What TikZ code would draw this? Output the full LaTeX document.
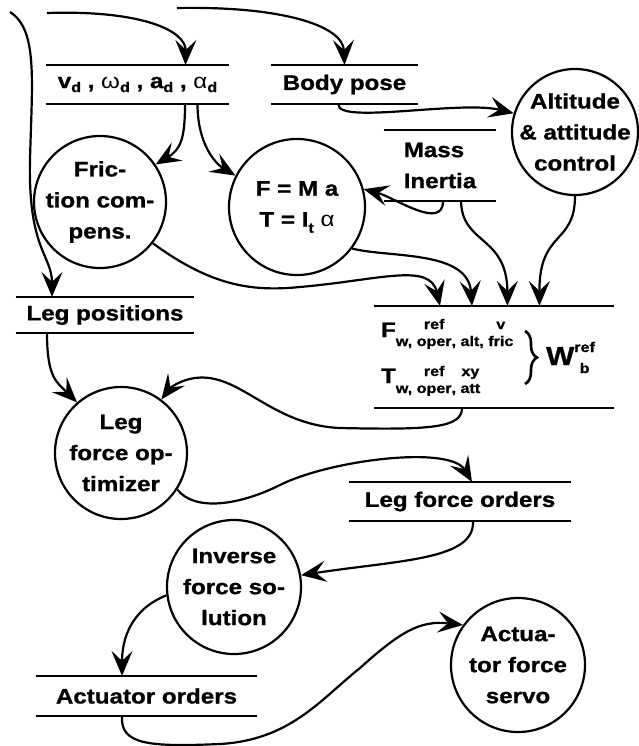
\documentclass[tikz,border=0pt]{standalone}
\usepackage{fontspec}
\setmainfont{Liberation Sans}[FakeStretch=1.15, BoldFeatures={FakeBold=1}]
\usetikzlibrary{arrows.meta,decorations.pathreplacing}

\newcommand{\dn}{\raisebox{-4pt}{\fontsize{14}{14}\selectfont d}}
\newcommand{\smf}{\fontsize{14}{17}\selectfont}
\newcommand{\stk}[2]{\begin{tabular}[b]{@{}c@{}}#1\\#2\end{tabular}}
\newcommand{\stkw}[2]{\begin{tabular}[b]{@{}c@{}}#1\\[4pt]#2\end{tabular}}

\tikzset{
  store/.style={minimum height=37pt, inner sep=0pt,
    append after command={(\tikzlastnode.north west) edge (\tikzlastnode.north east)
      (\tikzlastnode.south west) edge (\tikzlastnode.south east)}},
  proc/.style={circle, draw, minimum size=132pt, inner sep=0pt},
  ptext/.style={align=center, inner sep=0pt},
  arr/.style={-{Stealth[length=25pt,width=21pt,inset=10pt]}},
  brc/.style={decorate, decoration={brace, amplitude=12pt}, line width=2.6pt}
}

\begin{document}
\begin{tikzpicture}[x=1pt, y=-1pt, line width=2.2pt, font=\fontsize{21}{31}\selectfont\bfseries]
  \useasboundingbox (0,0) rectangle (638,746);

  \node[store, minimum width=181pt] (vd) at (137.5,84.5) {v\dn\ , {\mdseries ω}\dn\ , a\dn\ , {\mdseries α}\dn};
  \node[store, minimum width=145pt] (pose) at (344.5,84.5) {Body pose};
  \node[store, minimum width=110pt, minimum height=69pt, align=left] (mass) at (440,165.5) {Mass\\Inertia};
  \node[store, minimum width=176pt, minimum height=34pt] (legpos) at (105,315) {Leg positions};
  \node[store, minimum width=237pt, minimum height=100pt] (wref) at (494,357) {};
  \node[store, minimum width=220pt] (lfo) at (460,501.5) {Leg force orders};
  \node[store, minimum width=219pt, minimum height=38pt] (act) at (146.5,696) {Actuator orders};

  \node[anchor=base west, inner sep=0pt] (wf) at (380,337) {F\raisebox{-9pt}{\smf w, \stk{ref}{oper}, alt, \stk{v}{fric}}};
  \node[anchor=base west, inner sep=0pt] (wt) at (380,383) {T\raisebox{-10pt}{\smf w, \stk{ref}{oper}, \stk{xy}{att}}};
  \coordinate (brt) at (525,331);
  \coordinate (brb) at (525,384);
  \draw[brc] (brt) -- (brb);
  \node[anchor=base west, inner sep=0pt] (wb) at (545,365) {{\fontsize{26}{26}\selectfont W}\raisebox{-8pt}{\smf\stkw{ref}{b}}};

  \node[proc] (fric) at (100,202) {};
  \node[ptext] (fric-t) at (fric) {Fric-\\tion com-\\pens.};
  \node[proc, minimum size=136pt] (fma) at (297,207) {};
  \node[ptext] (fma-t) at (fma) {F = M a\\T = I\raisebox{-6pt}{\smf t} {\mdseries α}};
  \node[proc, minimum size=126pt] (alt) at (575,132) {};
  \node[ptext] (alt-t) at (alt) {Altitude\\\& attitude\\control};
  \node[proc] (opt) at (121,453) {};
  \node[ptext] (opt-t) at (opt) {Leg\\force op-\\timizer};
  \node[proc, minimum size=134pt] (inv) at (234,587) {};
  \node[ptext] (inv-t) at (inv) {Inverse\\force so-\\lution};
  \node[proc, minimum size=134pt] (serv) at (518,665) {};
  \node[ptext] (serv-t) at (serv) {Actua-\\tor force\\servo};

  \coordinate (in1) at (47,13);
  \coordinate (in2) at (177,8);
  \coordinate (in3) at (10,12);

  \draw[arr] (in1) .. controls (140,10) and (186,30) .. ([xshift=48pt]vd.north);
  \draw[arr] (in2) .. controls (280,6) and (343,25) .. (pose.north);
  \draw[arr] (in3) .. controls (38,30) and (32,80) .. (30,160) .. controls (28,250) and (52,255) .. ([xshift=-53pt]legpos.north);
  \draw[arr] ([xshift=47.5pt]vd.south) .. controls +(0,35) and +(25,-15) .. (fric.34);
  \draw[arr] ([xshift=60pt]vd.south) .. controls +(0,40) and +(-20,-12) .. (fma.153);
  \draw[arr] ([xshift=-6pt]pose.south) .. controls (336,125) and (460,100) .. (alt.163);
  \draw[arr] ([xshift=3pt]mass.south) .. controls +(0,30) and +(30,8) .. (fma.15);
  \draw[arr] ([xshift=21pt]mass.south) .. controls (462,245) and (507,235) .. ([xshift=13.5pt]wref.north);
  \draw[arr] (alt.south) .. controls (575,245) and (539,230) .. ([xshift=45.5pt]wref.north);
  \draw[arr] (fric.-38) .. controls (210,285) and (250,292) .. (300,287) .. controls (380,280) and (430,262) .. ([xshift=-54pt]wref.north);
  \draw[arr] (fma.-37) .. controls (390,258) and (468,250) .. ([xshift=-22pt]wref.north);
  \draw[arr] ([xshift=-32pt]wref.south) .. controls (462,428) and (430,430) .. (340,428) .. controls (270,425) and (240,372) .. (195,378) .. controls (180,380) and (170,388) .. (opt.53);
  \draw[arr] ([xshift=-58pt]legpos.south) .. controls +(0,45) and +(-20,-20) .. (opt.131);
  \draw[arr] (opt.-33) .. controls (195,512) and (240,505) .. (280,485) .. controls (330,460) and (450,445) .. ([xshift=12pt]lfo.north);
  \draw[arr] ([xshift=13pt]lfo.south) .. controls (475,560) and (400,560) .. (inv.10);
  \draw[arr] (inv.187) .. controls (130,610) and (122,640) .. ([xshift=-24.5pt]act.north);
  \draw[arr] ([xshift=-24.5pt]act.south) .. controls (120,745) and (150,747) .. (220,744) .. controls (290,740) and (320,700) .. (360,668) .. controls (400,632) and (420,620) .. (serv.144);
\end{tikzpicture}
\end{document}
